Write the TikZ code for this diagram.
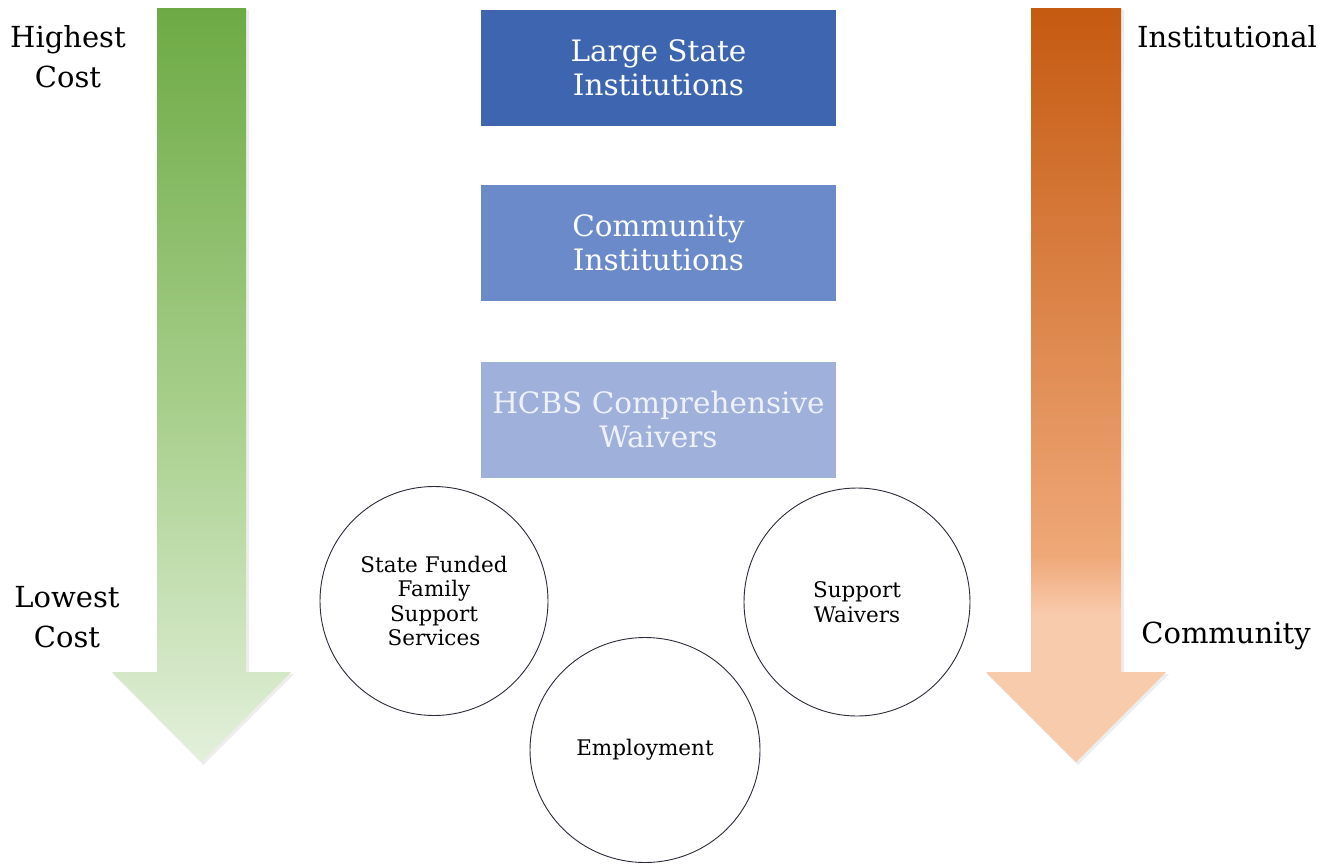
\documentclass[tikz,border=0pt]{standalone}
\usepackage{fontspec}
\setmainfont{DejaVu Serif}
\usetikzlibrary{shapes.geometric}
\definecolor{gtop}{HTML}{6DAA44}
\definecolor{gmid}{HTML}{A9D08E}
\definecolor{gbot}{HTML}{E3F0DB}
\definecolor{otop}{HTML}{C55A11}
\definecolor{omid}{HTML}{EFA878}
\definecolor{obot}{HTML}{F8CBAD}
\definecolor{boxA}{HTML}{3E66B0}
\definecolor{boxB}{HTML}{6A8ACA}
\definecolor{boxC}{HTML}{9FB1DB}
\definecolor{txtC}{HTML}{EEF1F8}
\definecolor{ringc}{HTML}{2B2B3A}
\tikzset{
  levelbox/.style={rectangle, minimum width=355pt, minimum height=116pt, inner sep=0pt,
    align=center, text=white, font=\fontsize{29.5}{34}\selectfont},
  sidelabel/.style={align=center, inner sep=0pt, text=black, font=\fontsize{29}{40}\selectfont},
  ring/.style={ellipse, draw=ringc, line width=0.9pt, fill=white, inner sep=0pt,
    align=center, font=\fontsize{21.5}{24.5}\selectfont},
  softshadow/.style={fill=black, fill opacity=0.07}
}
\begin{document}
\begin{tikzpicture}[x=1pt,y=-1pt]
\useasboundingbox[fill=white] (0,0) rectangle (1325,863);
% shadows
\fill[softshadow] (159,10) -- (249,10) -- (249,674) -- (294,674) -- (203.5,765) -- (113,674) -- (159,674) -- cycle;
\fill[softshadow] (1033,10) -- (1124,10) -- (1124,674) -- (1169,674) -- (1078,765) -- (987,674) -- (1033,674) -- cycle;
% green arrow
\begin{scope}
\clip (157,8) -- (246,8) -- (246,672) -- (291,672) -- (201.5,762) -- (112,672) -- (157,672) -- cycle;
\shade[top color=gtop, bottom color=gmid] (100,8) rectangle (300,420);
\shade[top color=gmid, bottom color=gbot] (100,420) rectangle (300,763);
\end{scope}
% orange arrow
\begin{scope}
\clip (1031,8) -- (1121,8) -- (1121,672) -- (1166,672) -- (1076,762) -- (986,672) -- (1031,672) -- cycle;
\shade[top color=otop, bottom color=omid] (980,8) rectangle (1170,555);
\shade[top color=omid, bottom color=obot] (980,555) rectangle (1170,615);
\fill[obot] (980,615) rectangle (1170,763);
\end{scope}
% side labels
\node[sidelabel] (hc) at (68,57) {Highest\\Cost};
\node[sidelabel] (lc) at (67,617) {Lowest\\Cost};
\node[sidelabel] (inst) at (1227,37) {Institutional};
\node[sidelabel] (comm) at (1226,636) {Community};
% boxes
\node[levelbox, fill=boxA] (b1) at (658.5,67.5) {Large State\\Institutions};
\node[levelbox, fill=boxB] (b2) at (658.5,243) {Community\\Institutions};
\node[levelbox, fill=boxC, text=txtC] (b3) at (658.5,419.5) {HCBS Comprehensive\\Waivers};
% circles
\node[ring, minimum width=228pt, minimum height=229pt] (sf) at (434,601) {State Funded\\Family\\Support\\Services};
\node[ring, minimum width=226pt, minimum height=228pt] (sw) at (857,602) {Support\\Waivers};
\node[ring, minimum width=230pt, minimum height=225pt] (em) at (645,750) {Employment};
\end{tikzpicture}
\end{document}
